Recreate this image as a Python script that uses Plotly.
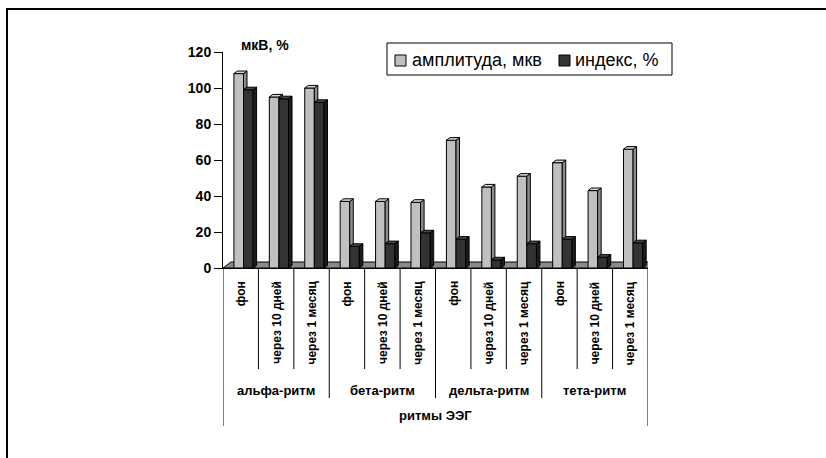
import plotly.graph_objects as go

# --- data -------------------------------------------------------------
groups = ["альфа-ритм", "бета-ритм", "дельта-ритм", "тета-ритм"]
periods = ["фон", "через 10 дней", "через 1 месяц"]
amplitude = [108, 95, 100, 37, 37, 36.5, 71, 45, 51, 58.5, 43, 66]
index_pct = [99, 94, 92, 12, 13.5, 19.5, 16, 4.5, 13.5, 16, 6, 14]
y_ticks = [0, 20, 40, 60, 80, 100, 120]
series_names = ["амплитуда, мкв", "индекс, %"]
axis_title = "ритмы ЭЭГ"
unit_label = "мкВ, %"

# --- geometry ---------------------------------------------------------
W_FIG, H_FIG = 826, 458
L, T, PW, PH = 223, 52, 425, 216          # plot area in pixels
n_cat = len(groups) * len(periods)
cat_px = PW / n_cat                        # pixels per category unit
val_px = PH / 120.0                        # pixels per value unit

def px(x):
    return (x - L) / PW

def py(y):
    return (T + PH - y) / PH

bar_w = 9.6 / cat_px
off_amp = -2.0 / cat_px
off_idx = 7.6 / cat_px
ddx = 3.5 / cat_px                         # depth offset of bar faces
ddy = 2.6 / val_px
floor_dx = 8.0 / cat_px
floor_dy = 6.0 / val_px

FONT = "Liberation Sans, Arial, sans-serif"
C_AMP, C_AMP_TOP, C_AMP_SIDE = "#c0c0c0", "#d8d8d8", "#8c8c8c"
C_IDX, C_IDX_TOP, C_IDX_SIDE = "#333333", "#4a4a4a", "#1c1c1c"

xs = list(range(n_cat))


def faces(values, offset, bottoms):
    tx, ty, sx, sy = [], [], [], []
    for i, v in enumerate(values):
        lft = xs[i] + offset - bar_w / 2
        rgt = xs[i] + offset + bar_w / 2
        tx += [lft, rgt, rgt + ddx, lft + ddx, lft, None]
        ty += [v, v, v + ddy, v + ddy, v, None]
        b = bottoms[i]
        if v > b:
            sx += [rgt, rgt + ddx, rgt + ddx, rgt, rgt, None]
            sy += [b, b + ddy, v + ddy, v, b, None]
    return tx, ty, sx, sy


fig = go.Figure()

# front faces
fig.add_trace(go.Bar(x=[x + off_amp for x in xs], y=amplitude, width=bar_w,
                     name=series_names[0], marker=dict(color=C_AMP, line=dict(color="black", width=1)),
                     showlegend=False))
fig.add_trace(go.Bar(x=[x + off_idx for x in xs], y=index_pct, width=bar_w,
                     name=series_names[1], marker=dict(color=C_IDX, line=dict(color="black", width=1)),
                     showlegend=False))

# top and side faces
atx, aty, asx, asy = faces(amplitude, off_amp, index_pct)
itx, ity, isx, isy = faces(index_pct, off_idx, [0] * n_cat)
for fx, fy, col in [(asx, asy, C_AMP_SIDE), (atx, aty, C_AMP_TOP),
                    (itx, ity, C_IDX_TOP), (isx, isy, C_IDX_SIDE)]:
    fig.add_trace(go.Scatter(x=fx, y=fy, mode="lines", fill="toself", fillcolor=col,
                             line=dict(color="black", width=1), showlegend=False,
                             hoverinfo="skip"))

shapes = []
# floor
x_lo, x_hi = -0.5, n_cat - 0.5
shapes.append(dict(type="path", xref="x", yref="y", layer="below",
                   path=f"M{x_lo},0 L{x_hi},0 L{x_hi + floor_dx},{floor_dy} L{x_lo + floor_dx},{floor_dy} Z",
                   fillcolor="#8a8a8a", line=dict(color="black", width=1)))

# category divider lines under the axis
for k in range(n_cat + 1):
    xb = k - 0.5
    if k in (0, n_cat):
        bottom = 426
    elif k % len(periods) == 0:
        bottom = 398
    else:
        bottom = 369
    shapes.append(dict(type="line", xref="x", yref="paper", x0=xb, x1=xb,
                       y0=py(268), y1=py(bottom), line=dict(color="black", width=1)))

# outer frame
shapes.append(dict(type="rect", xref="paper", yref="paper", x0=px(7), x1=px(900),
                   y0=py(600), y1=py(9), line=dict(color="black", width=2)))

# legend box and swatches
shapes.append(dict(type="rect", xref="paper", yref="paper", x0=px(387), x1=px(672),
                   y0=py(75), y1=py(43), line=dict(color="black", width=1), fillcolor="white"))
for sx0, col in [(395, C_AMP), (559, C_IDX)]:
    shapes.append(dict(type="rect", xref="paper", yref="paper", x0=px(sx0), x1=px(sx0 + 11),
                       y0=py(66), y1=py(55), line=dict(color="black", width=1), fillcolor=col))

annotations = []
for i in range(n_cat):
    annotations.append(dict(x=xs[i], y=py(279), xref="x", yref="paper", text=periods[i % len(periods)],
                            textangle=-90, xanchor="center", yanchor="top", showarrow=False,
                            font=dict(family=FONT, size=12, color="black", weight="bold")))
for g, name in enumerate(groups):
    annotations.append(dict(x=g * len(periods) + 1, y=py(390), xref="x", yref="paper", text=name,
                            xanchor="center", yanchor="middle", showarrow=False,
                            font=dict(family=FONT, size=13, color="black", weight="bold")))
annotations.append(dict(x=(n_cat - 1) / 2, y=py(415), xref="x", yref="paper", text=axis_title,
                        xanchor="center", yanchor="middle", showarrow=False,
                        font=dict(family=FONT, size=13, color="black", weight="bold")))
annotations.append(dict(x=px(265), y=py(45), xref="paper", yref="paper", text=unit_label,
                        xanchor="center", yanchor="middle", showarrow=False,
                        font=dict(family=FONT, size=14, color="black", weight="bold")))
for tx0, name in [(410, series_names[0]), (573, series_names[1])]:
    annotations.append(dict(x=px(tx0), y=py(60), xref="paper", yref="paper", text=name,
                            xanchor="left", yanchor="middle", showarrow=False,
                            font=dict(family=FONT, size=18, color="black")))

fig.update_layout(
    width=W_FIG, height=H_FIG,
    margin=dict(l=L, r=W_FIG - L - PW, t=T, b=H_FIG - T - PH, autoexpand=False),
    paper_bgcolor="white", plot_bgcolor="white",
    barmode="overlay",
    showlegend=False,
    shapes=shapes,
    annotations=annotations,
    xaxis=dict(range=[x_lo, x_hi], showticklabels=False, ticks="", showgrid=False,
               zeroline=False, showline=True, linecolor="black", linewidth=1, fixedrange=True),
    yaxis=dict(range=[0, 120], tickvals=y_ticks, ticks="outside", ticklen=8, tickcolor="black",
               showgrid=False, zeroline=False, showline=True, linecolor="black", linewidth=1,
               tickfont=dict(family=FONT, size=14, color="black", weight="bold"), fixedrange=True),
)

fig.write_html("out.html")
